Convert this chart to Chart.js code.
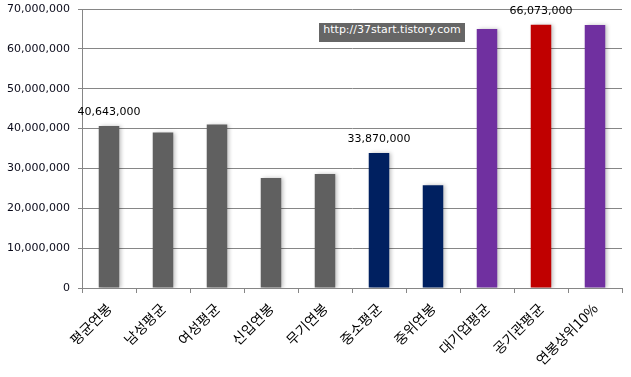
<!DOCTYPE html>
<html lang="ko">
<head>
    <meta charset="UTF-8">
    <title>연봉 비교</title>
    <script src="https://cdn.jsdelivr.net/npm/chart.js"></script>
    <style>
        body {
            margin: 0;
            background: #fff;
        }

        .wrap {
            position: relative;
            width: 631px;
            height: 377px;
        }

        .stamp {
            position: absolute;
            left: 319px;
            top: 23px;
            width: 146px;
            height: 19px;
            line-height: 19px;
            background: #666666;
            color: #fff;
            font: 11px "DejaVu Sans", sans-serif;
            text-align: center;
        }
    </style>
</head>
<body>
<div class="wrap">
    <canvas id="salaryChart" width="631" height="377"></canvas>
    <div class="stamp">http://37start.tistory.com</div>
</div>

<script>
    // 항목 / 값
    const categories = ['평균연봉', '남성평균', '여성평균', '신입연봉', '무기연봉', '중소평균', '중위연봉', '대기업평균', '공기관평균', '연봉상위10%'];
    const salaries = [40643000, 39000000, 41000000, 27600000, 28600000, 33870000, 25800000, 65000000, 66073000, 66000000];
    const barColors = ['#606060', '#606060', '#606060', '#606060', '#606060', '#002060', '#002060', '#7030A0', '#C00000', '#7030A0'];
    // 값 표시할 막대
    const labelledBars = [0, 5, 8];
    const yTicks = [0, 10000000, 20000000, 30000000, 40000000, 50000000, 60000000, 70000000];

    const fmt = v => v.toLocaleString('en-US');

    // 막대 그림자
    const barShadow = {
        id: 'barShadow',
        beforeDatasetsDraw(chart) {
            const ctx = chart.ctx;
            ctx.save();
            ctx.shadowColor = 'rgba(0, 0, 0, 0.25)';
            ctx.shadowBlur = 4;
            ctx.shadowOffsetX = 2;
            ctx.shadowOffsetY = 0;
        },
        afterDatasetsDraw(chart) {
            chart.ctx.restore();
        }
    };

    // 선택 막대 위 값
    const valueLabels = {
        id: 'valueLabels',
        afterDatasetsDraw(chart) {
            const ctx = chart.ctx;
            const bars = chart.getDatasetMeta(0).data;
            ctx.save();
            ctx.fillStyle = '#000';
            ctx.font = '11px "DejaVu Sans", sans-serif';
            ctx.textAlign = 'center';
            ctx.textBaseline = 'middle';
            labelledBars.forEach(i => {
                ctx.fillText(fmt(salaries[i]), bars[i].x, bars[i].y - 14);
            });
            ctx.restore();
        }
    };

    new Chart(document.getElementById('salaryChart'), {
        type: 'bar',
        data: {
            labels: categories,
            datasets: [{
                data: salaries,
                backgroundColor: barColors,
                borderWidth: 0,
                categoryPercentage: 1,
                barPercentage: 0.38
            }]
        },
        options: {
            responsive: false,
            animation: false,
            layout: {
                padding: {top: 9, right: 9, left: 0, bottom: 0}
            },
            plugins: {
                legend: {display: false},
                tooltip: {enabled: false}
            },
            scales: {
                x: {
                    afterFit(scale) {
                        scale.height = 89;
                    },
                    grid: {
                        drawOnChartArea: false,
                        drawTicks: true,
                        tickLength: 5,
                        color: '#868686'
                    },
                    border: {color: '#868686'},
                    ticks: {
                        minRotation: 45,
                        maxRotation: 45,
                        color: '#000',
                        padding: 7,
                        font: {family: '"Noto Sans CJK KR", sans-serif', size: 14}
                    }
                },
                y: {
                    min: 0,
                    max: 70000000,
                    afterFit(scale) {
                        scale.width = 82;
                        scale.paddingTop = 0;
                        scale.paddingBottom = 0;
                    },
                    afterBuildTicks(scale) {
                        scale.ticks = yTicks.map(v => ({value: v}));
                    },
                    grid: {
                        color: '#868686',
                        tickLength: 4
                    },
                    border: {color: '#868686'},
                    ticks: {
                        color: '#0a0a1a',
                        padding: 8,
                        font: {family: '"DejaVu Sans", sans-serif', size: 11},
                        callback: v => fmt(v)
                    }
                }
            }
        },
        plugins: [barShadow, valueLabels]
    });
</script>
</body>
</html>
